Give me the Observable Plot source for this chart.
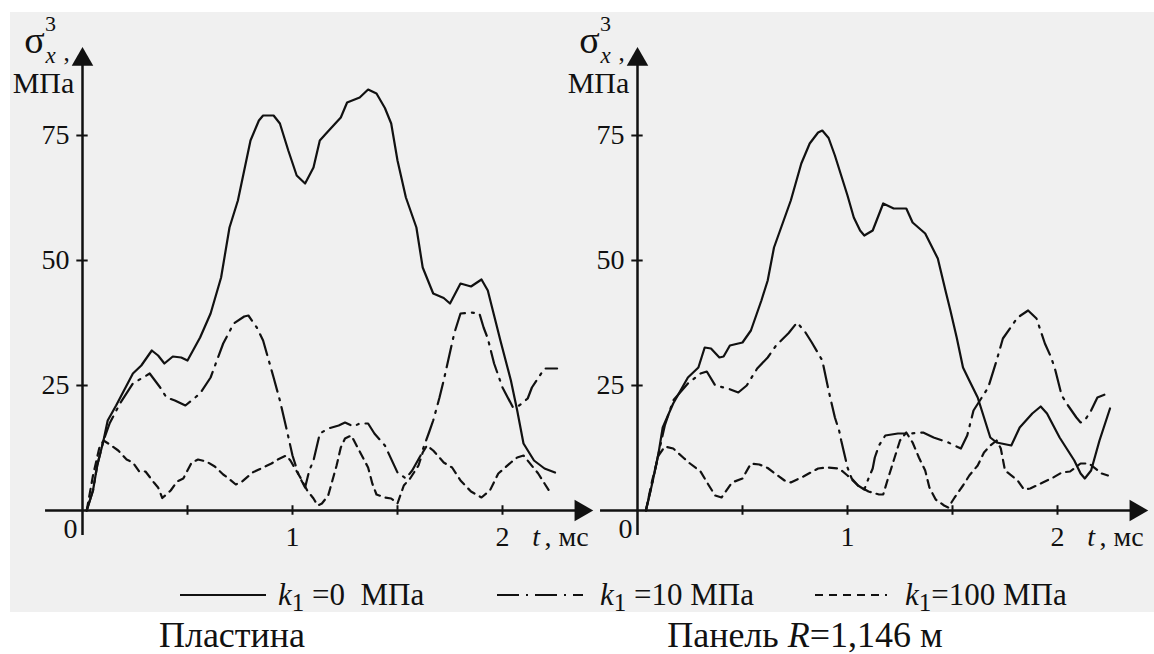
<!DOCTYPE html>
<html><head><meta charset="utf-8">
<script src="https://cdn.jsdelivr.net/npm/d3@7"></script>
<script src="https://cdn.jsdelivr.net/npm/@observablehq/plot@0.6"></script>
<style>
html,body{margin:0;padding:0;background:#fff;overflow:hidden;}
#wrap{position:relative;width:1154px;height:654px;color:#111;font-family:'Liberation Serif','Noto Serif CJK SC',serif;}
#bg{position:absolute;left:10px;top:12px;width:1144px;height:600px;background:#f0f0f0;}
.panel{position:absolute;top:0;}
.leg{position:absolute;top:580px;font-size:31px;line-height:30px;white-space:nowrap;}
.leg sub{font-size:25px;vertical-align:-6px;line-height:0;}
.sample{position:absolute;top:587px;}
.cap{position:absolute;top:617px;font-size:36px;line-height:36px;white-space:nowrap;transform:translateX(-50%);}
</style></head>
<body><div id="wrap"><div id="bg"></div>
<div id="left" class="panel" style="left:0px"></div>
<div id="right" class="panel" style="left:555px"></div>
<svg class="sample" style="left:180px" width="86" height="16"><line x1="0" x2="86" y1="8" y2="8" stroke="#111" stroke-width="2"/></svg>
<div class="leg" style="left:278px"><i>k</i><sub>1</sub> =0&nbsp; МПа</div>
<svg class="sample" style="left:497px" width="86" height="16"><line x1="0" x2="86" y1="8" y2="8" stroke="#111" stroke-width="2" stroke-dasharray="22,7,2,7"/></svg>
<div class="leg" style="left:600px"><i>k</i><sub>1</sub> =10 МПа</div>
<svg class="sample" style="left:815px" width="72" height="16"><line x1="0" x2="72" y1="8" y2="8" stroke="#111" stroke-width="2" stroke-dasharray="8,6"/></svg>
<div class="leg" style="left:905px"><i>k</i><sub>1</sub>=100 МПа</div>
<div class="cap" style="left:232px">Пластина</div>
<div class="cap" style="left:805px">Панель <i>R</i>=1,146 м</div>
</div>
<script>
// ---- data: time t (ms) and stress sigma_x^3 (MPa) ----
// Plate (Пластина)
const plateT_k0 = [0.02,0.05,0.07,0.1,0.12,0.16,0.18,0.24,0.28,0.33,0.36,0.39,0.43,0.47,0.5,0.56,0.61,0.66,0.7,0.74,0.8,0.84,0.86,0.91,0.94,0.98,1.02,1.06,1.1,1.13,1.16,1.23,1.26,1.32,1.36,1.4,1.44,1.47,1.5,1.54,1.59,1.62,1.67,1.72,1.75,1.8,1.85,1.9,1.93,1.96,1.99,2.04,2.07,2.1,2.15,2.2,2.25];
const plateS_k0 = [0,4,9,14,18,21,22.6,27.4,29,32,31,29.4,30.8,30.6,30,34.6,39.4,46.6,56.6,62,74,78,79,79,77.4,72,67,65.4,68.6,74,75.4,78.6,81.6,82.6,84.2,83.4,80.5,77.4,70,62.6,56.6,48.6,43.4,42.5,41.4,45.4,44.8,46.2,44,39,34,26,20,13.4,10,8.4,7.6];
const plateT_k10 = [0.02,0.05,0.07,0.1,0.13,0.18,0.24,0.32,0.37,0.4,0.44,0.49,0.56,0.61,0.67,0.72,0.77,0.79,0.83,0.86,0.91,0.94,0.97,1.0,1.03,1.06,1.08,1.1,1.13,1.17,1.22,1.25,1.29,1.32,1.36,1.39,1.44,1.5,1.54,1.57,1.61,1.65,1.67,1.7,1.72,1.77,1.8,1.85,1.89,1.91,1.93,1.96,1.98,2.0,2.05,2.08,2.12,2.14,2.2,2.26];
const plateS_k10 = [0,4,9,14,17.5,21.5,25.4,27.4,24.6,22.6,22,21,23.4,26.6,33.4,37.4,38.8,39,36.6,34,26.6,22,16.6,11,7,4.6,8,10,15.4,16.4,17,17.6,16.8,17.4,17.4,15.4,13,7.6,6.4,8,11,15.6,18,22.6,26,35.4,39.4,39.6,39.4,36.6,34.4,29.4,27,24.6,20.6,21,22.4,24.6,28.4,28.4];
const plateT_k100 = [0.02,0.05,0.08,0.1,0.13,0.17,0.21,0.24,0.27,0.3,0.34,0.36,0.38,0.42,0.45,0.48,0.52,0.55,0.59,0.63,0.67,0.69,0.73,0.76,0.81,0.84,0.9,0.93,0.97,0.99,1.04,1.07,1.1,1.12,1.14,1.17,1.19,1.21,1.23,1.25,1.28,1.3,1.33,1.36,1.38,1.4,1.44,1.47,1.5,1.53,1.56,1.6,1.62,1.64,1.67,1.72,1.76,1.8,1.85,1.9,1.94,1.98,2.04,2.07,2.1,2.17,2.2,2.23];
const plateS_k100 = [0,7,12.5,14,13.2,12,10.2,9.6,7.8,7.8,5.6,4.6,2.5,4,5.8,6.4,9.6,10.2,9.8,8.8,7.2,6.6,5.2,5.8,7.6,8.2,9.4,10.2,11,10,6.4,4,2.4,1,1.4,3,6,9,12.6,14.4,15,13.4,11,8.6,5.4,3.2,2.6,2.4,1.4,5,6.4,9,11.6,13,12,9.6,8.6,6,3.8,2.6,4,7.4,9.6,10.6,11,7.4,5.4,3.4];
// Panel R = 1.146 m (Панель)
const panelT_k0 = [0.04,0.07,0.1,0.12,0.17,0.24,0.29,0.32,0.35,0.39,0.41,0.44,0.5,0.54,0.59,0.62,0.65,0.73,0.78,0.82,0.86,0.88,0.91,0.94,0.97,1.0,1.03,1.06,1.08,1.12,1.17,1.22,1.28,1.31,1.37,1.43,1.47,1.49,1.52,1.55,1.58,1.62,1.65,1.68,1.71,1.78,1.82,1.85,1.88,1.92,1.95,2.01,2.08,2.11,2.13,2.16,2.2,2.25];
const panelS_k0 = [0,5.4,11.4,16.6,21.4,26.6,28.6,32.6,32.4,30.6,30.8,33,33.6,36,42,46,52.6,62,69.4,73.4,75.6,76,74.5,71,67,63,58.6,56,55,56,61.4,60.4,60.4,57.6,55.4,50.4,43.4,40,34.6,28.6,26,22.6,18.6,14.6,13.6,13,16.6,18,19.4,20.8,19.4,14.6,10,7.4,6.4,8,14,20.4];
const panelT_k10 = [0.04,0.07,0.1,0.13,0.17,0.24,0.3,0.33,0.37,0.43,0.48,0.52,0.57,0.62,0.66,0.72,0.76,0.8,0.83,0.88,0.91,0.94,0.96,0.97,1.0,1.02,1.05,1.08,1.1,1.12,1.13,1.15,1.18,1.24,1.3,1.36,1.41,1.48,1.54,1.57,1.6,1.67,1.71,1.74,1.81,1.86,1.9,1.94,1.97,1.99,2.02,2.05,2.09,2.11,2.13,2.16,2.19,2.25];
const panelS_k10 = [0,5.4,11.4,17,22,25.4,27.4,27.8,25,24.4,23.6,25,28.4,30.6,33,35.5,37.6,35.6,33.6,30,24,18.6,16,14,8.6,6.4,5,4.2,6.4,8.4,10.6,13,15,15.4,15.4,15.6,14.6,13.6,12.4,15,20,24.6,30,34.4,38.6,40,38.4,33.4,30.6,28,23,21,18.6,17.6,18,20,22.6,23.6];
const panelT_k100 = [0.04,0.07,0.1,0.13,0.17,0.22,0.25,0.3,0.34,0.37,0.4,0.45,0.5,0.54,0.58,0.62,0.7,0.73,0.79,0.86,0.9,0.96,1.0,1.05,1.1,1.15,1.17,1.19,1.22,1.25,1.28,1.31,1.34,1.37,1.39,1.42,1.46,1.48,1.51,1.55,1.58,1.62,1.65,1.68,1.71,1.73,1.75,1.81,1.84,1.87,1.93,1.98,2.02,2.06,2.11,2.15,2.21,2.24];
const panelS_k100 = [0,6,11,12.8,12.4,10.5,9.4,7.8,5,3,2.6,5.6,6.4,9.4,9.2,8.5,6,5.6,6.8,8.4,8.6,8.4,7,5,3.8,3.2,3.2,6,10,14,15.6,13.6,10.6,8,4.6,2.2,1,0.6,2.6,5,7,9,11.6,13,14,12.4,8,6,4.2,4.4,5.6,6.6,7.6,7.8,9.4,9.4,7.4,7];

// axes
const xTicks = [0.5, 1, 1.5, 2];
const xTickLabels = [1, 2];
const yTicks = [25, 50, 75];
const xAxisExtent = [-0.176, 2.43];   // ms (line start, arrow tip)
const yAxisExtent = [-5, 92.6];       // MPa (line bottom, arrow tip)
const xUnitItalic = "t";
const xUnitRest = ", мс";
const yUnit = "МПа";

const INK = "#111";
const FONT = "'Liberation Serif','Noto Serif CJK SC',serif";
const styles = {k0: null, k10: "22,7,2,7", k100: "8,6"};

function pts(T, S) { return T.map((t, i) => ({t, s: S[i]})); }

function panel(series) {
  const one = [0];
  const txt = {fill: INK, fontFamily: FONT};
  return Plot.plot({
    width: 598, height: 560,
    marginLeft: 82, marginRight: 12, marginTop: 60, marginBottom: 50,
    x: {domain: [0, 2.4], axis: null},
    y: {domain: [0, 90], axis: null},
    style: {background: "transparent", overflow: "visible", fontFamily: FONT, color: INK},
    marks: [
      Plot.ruleY(one, {y: 0, x1: xAxisExtent[0], x2: xAxisExtent[1] - 0.05, stroke: INK, strokeWidth: 2.5}),
      Plot.ruleX(one, {x: 0, y1: yAxisExtent[0], y2: yAxisExtent[1] - 2.5, stroke: INK, strokeWidth: 2.5}),
      Plot.dot(one, {x: () => xAxisExtent[1], y: () => 0, symbol: "triangle", rotate: 90, r: 8, fill: INK, stroke: "none", dx: -12}),
      Plot.dot(one, {x: () => 0, y: () => yAxisExtent[1], symbol: "triangle", r: 8, fill: INK, stroke: "none", dy: 12}),
      Plot.ruleX(xTicks, {x: d => d, y1: -0.95, y2: 0.95, stroke: INK, strokeWidth: 2}),
      Plot.ruleY(yTicks, {y: d => d, x1: -0.027, x2: 0.027, stroke: INK, strokeWidth: 2}),
      Plot.text(yTicks, {x: () => 0, y: d => d, text: d => String(d), textAnchor: "end", dx: -13, fontSize: 28, ...txt}),
      Plot.text(xTickLabels, {x: d => d, y: () => 0, text: d => String(d), dy: 27, fontSize: 28, ...txt}),
      Plot.text(one, {x: () => 0, y: () => 0, text: () => "0", dx: -12, dy: 19, fontSize: 28, ...txt}),
      Plot.text(one, {x: () => 2.16, y: () => 0, text: () => xUnitItalic, dy: 27, fontSize: 28, fontStyle: "italic", ...txt}),
      Plot.text(one, {x: () => 2.2, y: () => 0, text: () => xUnitRest, textAnchor: "start", dy: 27, fontSize: 28, ...txt}),
      Plot.text(one, {x: () => 0, y: () => 90, text: () => "σ", dx: -48, dy: -20, fontSize: 38, ...txt}),
      Plot.text(one, {x: () => 0, y: () => 90, text: () => "3", dx: -32, dy: -37, fontSize: 22, ...txt}),
      Plot.text(one, {x: () => 0, y: () => 90, text: () => "x", dx: -32, dy: -5, fontSize: 23, fontStyle: "italic", ...txt}),
      Plot.text(one, {x: () => 0, y: () => 90, text: () => ",", dx: -16, dy: -8, fontSize: 25, ...txt}),
      Plot.text(one, {x: () => 0, y: () => 90, text: () => yUnit, dx: -39, dy: 23, fontSize: 30, ...txt}),
      ...series.map(([T, S, dash]) => Plot.line(pts(T, S), {x: "t", y: "s", stroke: INK, strokeWidth: 2.2, strokeDasharray: dash, curve: "linear"}))
    ]
  });
}

document.getElementById("left").append(panel([
  [plateT_k0, plateS_k0, styles.k0],
  [plateT_k10, plateS_k10, styles.k10],
  [plateT_k100, plateS_k100, styles.k100]
]));
document.getElementById("right").append(panel([
  [panelT_k0, panelS_k0, styles.k0],
  [panelT_k10, panelS_k10, styles.k10],
  [panelT_k100, panelS_k100, styles.k100]
]));
</script>
</body></html>
